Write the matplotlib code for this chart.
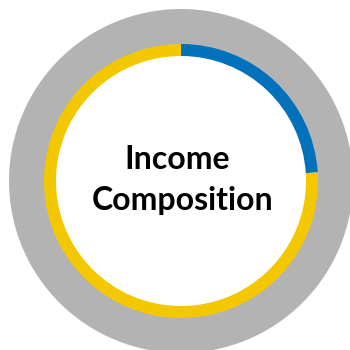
import matplotlib.pyplot as plt

# income composition shares (blue part, yellow part)
segments = ["Part A", "Part B"]
shares = [24, 76]
colors = ["#0071ba", "#f3c800"]
title_lines = ["Income", "Composition"]

fig = plt.figure(figsize=(3.5, 3.5), dpi=100)
ax = fig.add_axes([0, 0, 1, 1])

cx, cy = 181, 169

# gray outer band
ax.pie([1], radius=172, center=(cx, cy), colors=["#b3b3b3"],
       wedgeprops=dict(width=36, edgecolor="none"), frame=True)

# colored ring
ax.pie(shares, radius=137, center=(cx, cy), colors=colors, startangle=90,
       counterclock=False, wedgeprops=dict(width=12, edgecolor="none"), frame=True)

ax.set_xlim(0, 350)
ax.set_ylim(0, 350)
ax.set_aspect("equal")
ax.axis("off")

# title lines, baselines
for line, base, dx in zip(title_lines, [181, 140], [-4, 2]):
    ax.text(cx + dx, base, line, ha="center", va="baseline", fontsize=23,
            fontweight="bold", family="Lato")

fig.savefig("out.png", dpi=100)
